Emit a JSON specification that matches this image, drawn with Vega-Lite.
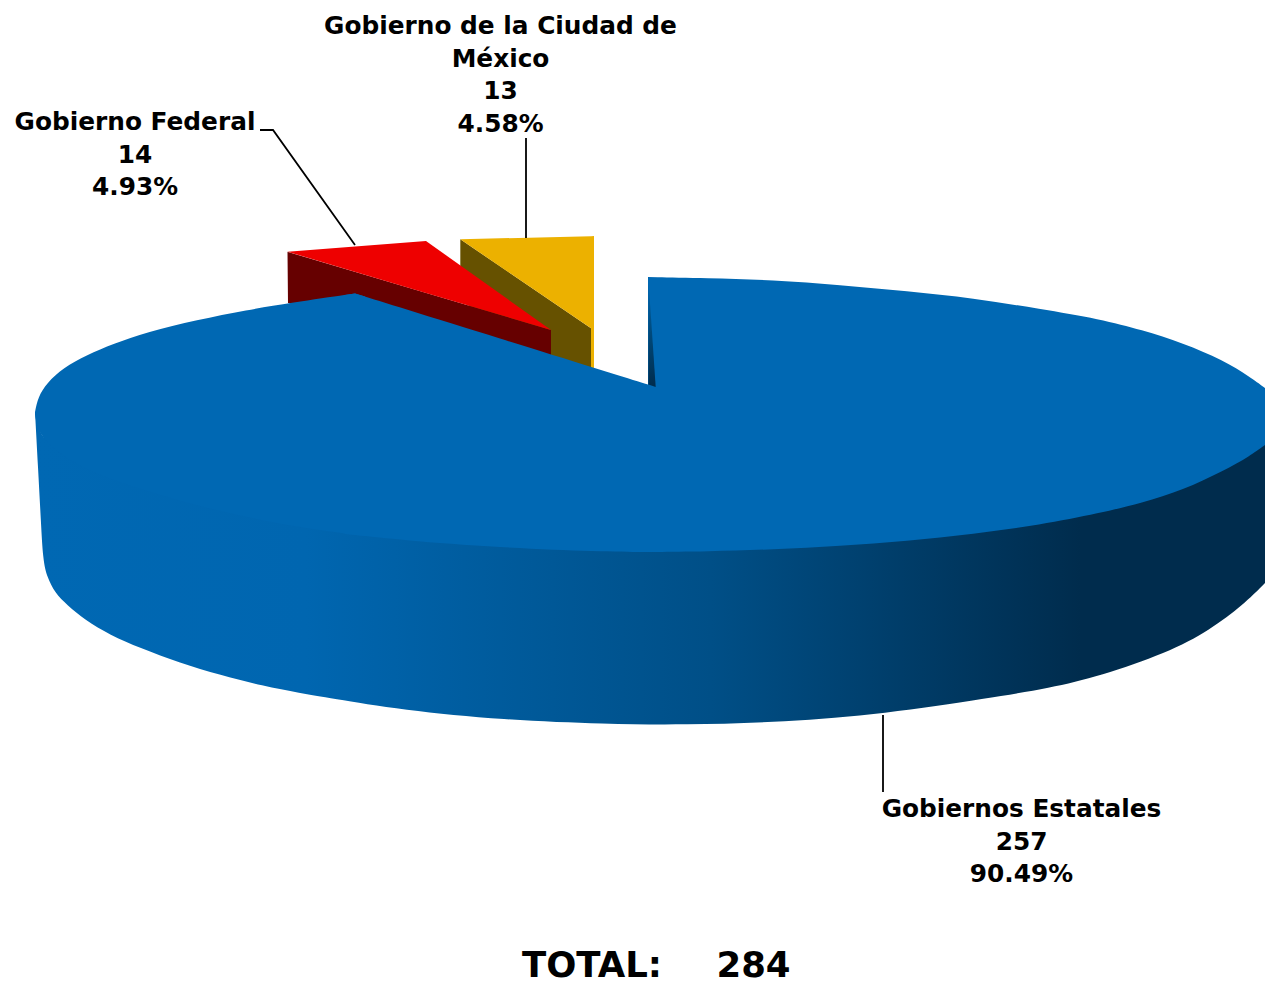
{"$schema":"https://vega.github.io/schema/vega-lite/v6.json","autosize":{"type":"none"},"width":1265,"height":984,"padding":0,"background":"white","view":{"stroke":null},
"datasets":{
"outline":[
{"part":"wall","x":35,"y":412,"y2":412},{"part":"wall","x":38,"y":425,"y2":467},{"part":"wall","x":41,"y":433,"y2":523},{"part":"wall","x":43,"y":437,"y2":560},{"part":"wall","x":47,"y":440,"y2":577},{"part":"wall","x":55,"y":440,"y2":593},{"part":"wall","x":67,"y":440,"y2":605},{"part":"wall","x":85,"y":440,"y2":620},{"part":"wall","x":110,"y":440,"y2":635},{"part":"wall","x":140,"y":440,"y2":648},{"part":"wall","x":180,"y":440,"y2":663},{"part":"wall","x":220,"y":440,"y2":675},{"part":"wall","x":263,"y":440,"y2":686},{"part":"wall","x":300,"y":440,"y2":693},{"part":"wall","x":330,"y":440,"y2":698},{"part":"wall","x":402,"y":440,"y2":710},{"part":"wall","x":504,"y":440,"y2":720},{"part":"wall","x":606,"y":440,"y2":724},{"part":"wall","x":683,"y":440,"y2":725},{"part":"wall","x":785,"y":440,"y2":722},{"part":"wall","x":884,"y":440,"y2":714},{"part":"wall","x":989,"y":440,"y2":698},{"part":"wall","x":1050,"y":440,"y2":688},{"part":"wall","x":1100,"y":440,"y2":676},{"part":"wall","x":1167,"y":440,"y2":653},{"part":"wall","x":1210,"y":440,"y2":630},{"part":"wall","x":1243,"y":440,"y2":605},{"part":"wall","x":1265,"y":440,"y2":583},
{"part":"goldWall","x":460.3,"y":239.3,"y2":300},{"part":"goldWall","x":551,"y":301,"y2":360},{"part":"goldWall","x":591,"y":328.3,"y2":372},
{"part":"goldTop","x":460.3,"y":239.3,"y2":239.3},{"part":"goldTop","x":591,"y":236.2,"y2":328.3},
{"part":"goldStrip","x":591,"y":236.2,"y2":372},{"part":"goldStrip","x":594,"y":236,"y2":372},
{"part":"redWall","x":287.5,"y":251.7,"y2":251.7},{"part":"redWall","x":288,"y":252,"y2":303},{"part":"redWall","x":551,"y":330,"y2":356},
{"part":"redTop","x":287.5,"y":251.7,"y2":251.7},{"part":"redTop","x":426,"y":241,"y2":292.9},{"part":"redTop","x":551,"y":330,"y2":330},
{"part":"topA","x":35,"y":412,"y2":415},{"part":"topA","x":38,"y":397,"y2":430},{"part":"topA","x":47,"y":383,"y2":443},{"part":"topA","x":63,"y":368,"y2":456},{"part":"topA","x":87,"y":355,"y2":470},{"part":"topA","x":113,"y":344,"y2":480},{"part":"topA","x":147,"y":332,"y2":491},{"part":"topA","x":197,"y":320,"y2":506},{"part":"topA","x":247,"y":310,"y2":517},{"part":"topA","x":290,"y":303,"y2":526},{"part":"topA","x":355,"y":293.5,"y2":535},
{"part":"patch","x":345,"y":295,"y2":534},{"part":"patch","x":355,"y":293.5,"y2":535},{"part":"patch","x":365,"y":296.6,"y2":536},
{"part":"topB","x":355,"y":293.5,"y2":535},{"part":"topB","x":400,"y":307.5,"y2":540},{"part":"topB","x":500,"y":338.6,"y2":547.6},{"part":"topB","x":600,"y":369.7,"y2":551.5},{"part":"topB","x":648,"y":384.6,"y2":552},{"part":"topB","x":655.7,"y":387,"y2":552},
{"part":"topC","x":648,"y":277,"y2":552},{"part":"topC","x":707,"y":278,"y2":551.5},{"part":"topC","x":773,"y":280,"y2":549.5},{"part":"topC","x":840,"y":285,"y2":546},{"part":"topC","x":907,"y":291,"y2":541},{"part":"topC","x":973,"y":298,"y2":534},{"part":"topC","x":1040,"y":309,"y2":525},{"part":"topC","x":1100,"y":319,"y2":513},{"part":"topC","x":1142,"y":330,"y2":503},{"part":"topC","x":1183,"y":343,"y2":490},{"part":"topC","x":1223,"y":360,"y2":471},{"part":"topC","x":1250,"y":377,"y2":456},{"part":"topC","x":1265,"y":388,"y2":445},
{"part":"sliver","x":648.3,"y":277.5,"y2":384.6},{"part":"sliver","x":655.7,"y":387,"y2":387}
],
"leaders":[
{"slice":"Gobierno Federal","x":260,"y":130},{"slice":"Gobierno Federal","x":273,"y":130},{"slice":"Gobierno Federal","x":355,"y":245},
{"slice":"Gobierno de la Ciudad de México","x":526,"y":138},{"slice":"Gobierno de la Ciudad de México","x":526,"y":238},
{"slice":"Gobiernos Estatales","x":883,"y":715},{"slice":"Gobiernos Estatales","x":883,"y":792}
],
"labels":[
{"text":"Gobierno Federal\n14\n4.93%","x":135,"y":110},
{"text":"Gobierno de la Ciudad de\nMéxico\n13\n4.58%","x":500.5,"y":14},
{"text":"Gobiernos Estatales\n257\n90.49%","x":1021.5,"y":797}
],
"total":[{"text":"TOTAL:","x":592,"y":966},{"text":"284","x":753.5,"y":966}]
},
"encoding":{
"x":{"field":"x","type":"quantitative","scale":{"domain":[0,1265],"nice":false,"zero":false},"axis":null},
"y":{"field":"y","type":"quantitative","scale":{"domain":[984,0],"nice":false,"zero":false},"axis":null}
},
"layer":[
{"data":{"name":"outline"},"transform":[{"filter":"datum.part==='wall'"}],"mark":{"type":"area","interpolate":"basis","color":{"gradient":"linear","x1":0,"y1":0,"x2":1,"y2":0,"stops":[{"offset":0,"color":"#0068b3"},{"offset":0.22,"color":"#0066b0"},{"offset":0.55,"color":"#004f87"},{"offset":0.85,"color":"#002c4d"},{"offset":1,"color":"#002c4d"}]}},"encoding":{"y2":{"field":"y2"}}},
{"data":{"name":"outline"},"transform":[{"filter":"datum.part==='goldWall'"}],"mark":{"type":"area","color":"#665100"},"encoding":{"y2":{"field":"y2"}}},
{"data":{"name":"outline"},"transform":[{"filter":"datum.part==='goldTop'||datum.part==='goldStrip'"}],"mark":{"type":"area","color":"#ecb100"},"encoding":{"y2":{"field":"y2"},"detail":{"field":"part"}}},
{"data":{"name":"outline"},"transform":[{"filter":"datum.part==='redWall'"}],"mark":{"type":"area","color":"#660000"},"encoding":{"y2":{"field":"y2"}}},
{"data":{"name":"outline"},"transform":[{"filter":"datum.part==='redTop'"}],"mark":{"type":"area","color":"#ee0000"},"encoding":{"y2":{"field":"y2"}}},
{"data":{"name":"outline"},"transform":[{"filter":"datum.part==='topA'||datum.part==='topB'||datum.part==='topC'"}],"mark":{"type":"area","interpolate":"basis","color":"#0068b3"},"encoding":{"y2":{"field":"y2"},"detail":{"field":"part"}}},
{"data":{"name":"outline"},"transform":[{"filter":"datum.part==='patch'"}],"mark":{"type":"area","color":"#0068b3"},"encoding":{"y2":{"field":"y2"}}},
{"data":{"name":"outline"},"transform":[{"filter":"datum.part==='sliver'"}],"mark":{"type":"area","color":{"gradient":"linear","x1":0,"y1":0,"x2":0,"y2":1,"stops":[{"offset":0,"color":"#0068b3"},{"offset":0.5,"color":"#004a7c"},{"offset":1,"color":"#002c4d"}]}},"encoding":{"y2":{"field":"y2"}}},
{"data":{"name":"leaders"},"mark":{"type":"line","color":"#000000","strokeWidth":1.8},"encoding":{"detail":{"field":"slice"},"order":{"field":"y"}}},
{"data":{"name":"labels"},"mark":{"type":"text","font":"DejaVu Sans","fontWeight":"bold","fontSize":24.8,"align":"center","baseline":"top","lineBreak":"\n","lineHeight":32.5,"color":"#000000"},"encoding":{"text":{"field":"text"}}},
{"data":{"name":"total"},"mark":{"type":"text","font":"DejaVu Sans","fontWeight":"bold","fontSize":35.5,"align":"center","baseline":"middle","color":"#000000"},"encoding":{"text":{"field":"text"}}}
]}
